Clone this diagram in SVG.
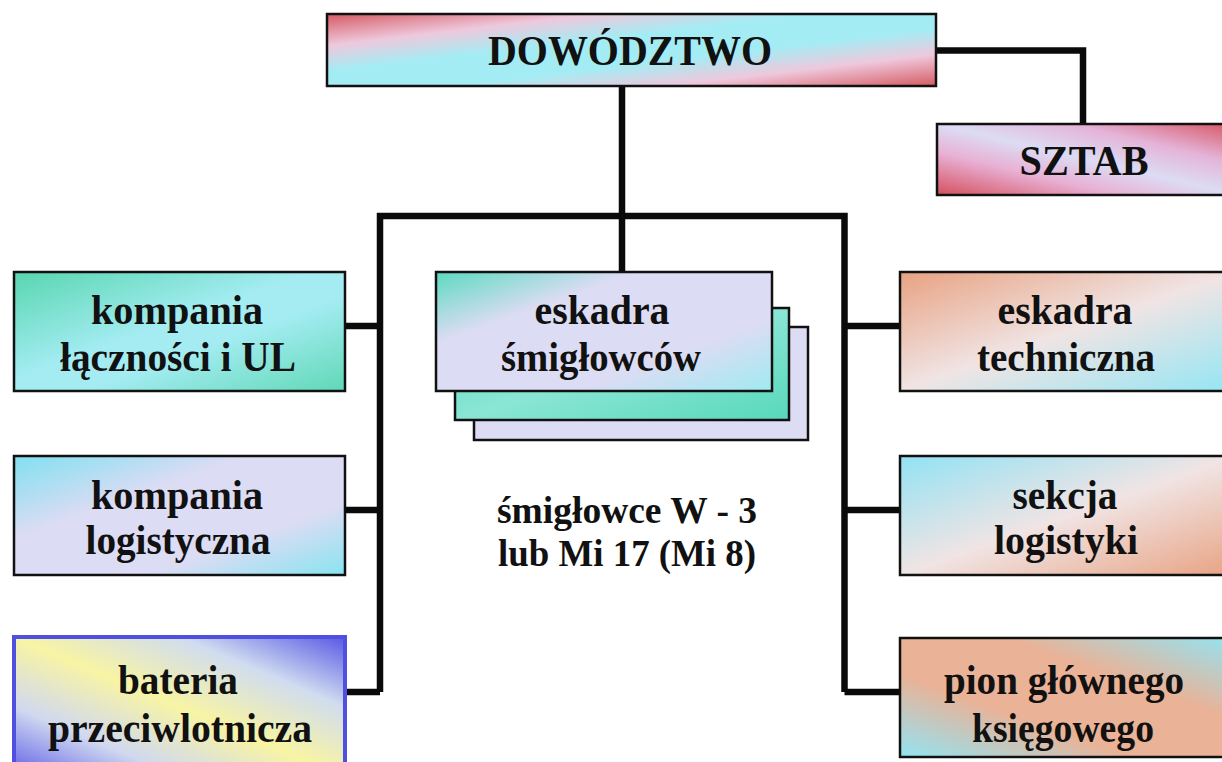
<svg xmlns="http://www.w3.org/2000/svg" width="1222" height="762" viewBox="0 0 1222 762">
<defs>
<linearGradient id="gDow" x1="0" y1="0" x2="1" y2="1">
<stop offset="0" stop-color="#d65a62"/><stop offset="0.22" stop-color="#eec8dc"/><stop offset="0.4" stop-color="#a4ecf4"/><stop offset="0.6" stop-color="#a4ecf4"/><stop offset="0.78" stop-color="#eec8dc"/><stop offset="1" stop-color="#d65a62"/>
</linearGradient>
<linearGradient id="gSztab" x1="0" y1="1" x2="1" y2="0">
<stop offset="0" stop-color="#d4505e"/><stop offset="0.3" stop-color="#e8b0d4"/><stop offset="0.5" stop-color="#dcdcf4"/><stop offset="0.72" stop-color="#e4b4d8"/><stop offset="1" stop-color="#d65462"/>
</linearGradient>
<linearGradient id="gTeal" x1="0" y1="0" x2="1" y2="1">
<stop offset="0" stop-color="#58d6b0"/><stop offset="0.45" stop-color="#a4ecf2"/><stop offset="0.6" stop-color="#a4ecf2"/><stop offset="1" stop-color="#60d8b6"/>
</linearGradient>
<linearGradient id="gLav" x1="0" y1="0" x2="1" y2="1">
<stop offset="0" stop-color="#80e0f0"/><stop offset="0.35" stop-color="#dcdcf4"/><stop offset="0.7" stop-color="#dcdcf4"/><stop offset="1" stop-color="#88e4f0"/>
</linearGradient>
<linearGradient id="gBat" x1="0" y1="1" x2="1" y2="0">
<stop offset="0" stop-color="#5c5ce6"/><stop offset="0.25" stop-color="#d0d8f0"/><stop offset="0.5" stop-color="#f8f4a4"/><stop offset="0.75" stop-color="#d0dcf0"/><stop offset="1" stop-color="#5858e4"/>
</linearGradient>
<linearGradient id="gEsk" x1="0" y1="0" x2="1" y2="1">
<stop offset="0" stop-color="#5cdac0"/><stop offset="0.3" stop-color="#dcdcf4"/><stop offset="0.7" stop-color="#dcdcf4"/><stop offset="1" stop-color="#a0eaf0"/>
</linearGradient>
<linearGradient id="gEsk2" x1="0" y1="0" x2="1" y2="1">
<stop offset="0" stop-color="#58d8bc"/><stop offset="0.5" stop-color="#8ae6d4"/><stop offset="1" stop-color="#58d8bc"/>
</linearGradient>
<linearGradient id="gSalCyan" x1="0" y1="0" x2="1" y2="1">
<stop offset="0" stop-color="#e8a282"/><stop offset="0.5" stop-color="#f0e4e4"/><stop offset="1" stop-color="#92e6f4"/>
</linearGradient>
<linearGradient id="gCyanSal" x1="0" y1="0" x2="1" y2="1">
<stop offset="0" stop-color="#92e2f4"/><stop offset="0.5" stop-color="#f0e4e4"/><stop offset="1" stop-color="#e8a282"/>
</linearGradient>
<linearGradient id="gPion" x1="0" y1="1" x2="1" y2="0">
<stop offset="0" stop-color="#92e4f4"/><stop offset="0.35" stop-color="#eab296"/><stop offset="0.65" stop-color="#eab296"/><stop offset="1" stop-color="#92e4f4"/>
</linearGradient>
<style>
.box{stroke:#111;stroke-width:2.5}
.t{font-family:"Liberation Serif","Times New Roman",serif;font-weight:bold;font-size:42px;fill:#111;text-anchor:middle}
.s{font-size:37px}
.c{fill:none;stroke:#0a0a0a;stroke-width:6.5;stroke-linejoin:miter}
</style>
</defs>
<rect width="1222" height="762" fill="#ffffff"/>
<g id="connectors">
<polyline class="c" points="936,50.5 1083,50.5 1083,124"/>
<line class="c" x1="622" y1="86" x2="622" y2="272"/>
<polyline class="c" points="380,692 380,216 844.5,216 844.5,692"/>
<line class="c" x1="345" y1="326" x2="380" y2="326"/>
<line class="c" x1="345" y1="510" x2="380" y2="510"/>
<line class="c" x1="345" y1="692" x2="380" y2="692"/>
<line class="c" x1="844.5" y1="326" x2="900" y2="326"/>
<line class="c" x1="844.5" y1="510" x2="900" y2="510"/>
<line class="c" x1="844.5" y1="692" x2="900" y2="692"/>
</g>
<g id="dowodztwo">
<rect class="box" x="327" y="14" width="609" height="72" fill="url(#gDow)"/>
<text class="t" x="630" y="65" textLength="284" lengthAdjust="spacingAndGlyphs">DOWÓDZTWO</text>
</g>
<g id="sztab">
<rect class="box" x="937" y="124" width="300" height="71" fill="url(#gSztab)"/>
<text class="t" x="1084" y="175" textLength="129" lengthAdjust="spacingAndGlyphs">SZTAB</text>
</g>
<g id="kompania-lacznosci">
<rect class="box" x="14" y="272" width="331" height="119" fill="url(#gTeal)"/>
<text class="t" x="177" y="324" textLength="172" lengthAdjust="spacingAndGlyphs">kompania</text>
<text class="t" x="178" y="371" textLength="236" lengthAdjust="spacingAndGlyphs">łączności i UL</text>
</g>
<g id="kompania-logistyczna">
<rect class="box" x="14" y="456" width="331" height="119" fill="url(#gLav)"/>
<text class="t" x="177" y="509" textLength="172" lengthAdjust="spacingAndGlyphs">kompania</text>
<text class="t" x="178" y="554" textLength="185" lengthAdjust="spacingAndGlyphs">logistyczna</text>
</g>
<g id="bateria">
<rect x="14" y="637" width="331" height="140" fill="url(#gBat)" stroke="#5050e0" stroke-width="4"/>
<text class="t" x="178" y="694" textLength="120" lengthAdjust="spacingAndGlyphs">bateria</text>
<text class="t" x="180" y="742" textLength="264" lengthAdjust="spacingAndGlyphs">przeciwlotnicza</text>
</g>
<g id="eskadra-smiglowcow">
<rect class="box" x="474" y="327" width="334" height="113" fill="#dcdcf4"/>
<rect class="box" x="455" y="308" width="334" height="112" fill="url(#gEsk2)"/>
<rect class="box" x="436" y="272" width="336" height="119" fill="url(#gEsk)"/>
<text class="t" x="602" y="324" textLength="135" lengthAdjust="spacingAndGlyphs">eskadra</text>
<text class="t" x="601" y="371" textLength="200" lengthAdjust="spacingAndGlyphs">śmigłowców</text>
</g>
<g id="smiglowce-label">
<text class="t s" x="627" y="523" textLength="260" lengthAdjust="spacingAndGlyphs">śmigłowce W - 3</text>
<text class="t s" x="627" y="566" textLength="258" lengthAdjust="spacingAndGlyphs">lub Mi 17 (Mi 8)</text>
</g>
<g id="eskadra-techniczna">
<rect class="box" x="900" y="272" width="337" height="119" fill="url(#gSalCyan)"/>
<text class="t" x="1065" y="324" textLength="135" lengthAdjust="spacingAndGlyphs">eskadra</text>
<text class="t" x="1066" y="371" textLength="178" lengthAdjust="spacingAndGlyphs">techniczna</text>
</g>
<g id="sekcja-logistyki">
<rect class="box" x="900" y="456" width="337" height="119" fill="url(#gCyanSal)"/>
<text class="t" x="1065" y="509" textLength="105" lengthAdjust="spacingAndGlyphs">sekcja</text>
<text class="t" x="1066" y="554" textLength="144" lengthAdjust="spacingAndGlyphs">logistyki</text>
</g>
<g id="pion-glownego">
<rect class="box" x="900" y="638" width="337" height="119" fill="url(#gPion)"/>
<text class="t" x="1064" y="694" textLength="240" lengthAdjust="spacingAndGlyphs">pion głównego</text>
<text class="t" x="1063" y="742" textLength="182" lengthAdjust="spacingAndGlyphs">księgowego</text>
</g>
</svg>
